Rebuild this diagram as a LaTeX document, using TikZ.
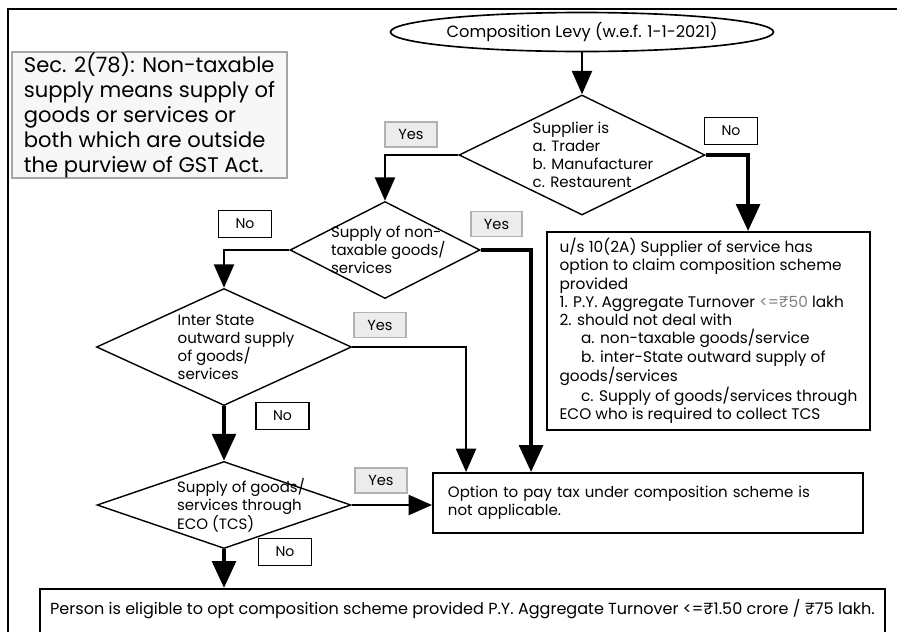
\documentclass[tikz,border=0pt]{standalone}
\usepackage{fontspec}
\setmainfont{Poppins}
\usetikzlibrary{shapes.geometric,arrows.meta}

\begin{document}
\begin{tikzpicture}[x=0.03cm,y=-0.03cm]
\tikzstyle{txt} = [font=\fontsize{12.8}{15.4}\selectfont, align=left]
\tikzstyle{decision} = [draw, line width=1.2pt, diamond, inner sep=0]
\tikzstyle{infobox} = [draw, line width=1.6pt, rectangle, inner ysep=0, txt]
\tikzstyle{yesbox} = [draw=gray!60, fill=gray!15, line width=1.5pt, minimum width=1.55cm, minimum height=0.75cm, inner sep=0, font=\fontsize{12.5}{13}\selectfont]
\tikzstyle{nobox} = [draw, line width=1.3pt, fill=white, minimum width=1.6cm, minimum height=0.8cm, inner sep=0, font=\fontsize{12}{13}\selectfont]
\tikzstyle{flow} = [line width=2.2pt, -{Triangle[width=17pt,length=20pt]}]
\tikzstyle{bigflow} = [line width=3.8pt, -{Triangle[width=20pt,length=23pt]}]

\useasboundingbox (0,0) rectangle (897,631);

% Cornice
\draw[line width=1.6pt] (8,640) -- (8,9) -- (900,9);

% Definizione
\node[infobox, draw=gray!70, fill=gray!6, line width=1pt, font=\fontsize{18}{21.3}\selectfont,
  minimum width=8.25cm, minimum height=3.78cm] (sec) at (149.5,115)
  {Sec. 2(78): Non-taxable\\supply means supply of\\goods or services or\\both which are outside\\the purview of GST Act.};

% Inizio
\node[draw, ellipse, line width=1.4pt, minimum width=10.17cm, minimum height=1.17cm, inner sep=0,
  font=\fontsize{13.9}{15}\selectfont] (levy) at (582,32) {Composition Levy (w.e.f. 1-1-2021)};

% Domande
\node[decision, minimum width=7.38cm, minimum height=3.6cm,
  label={[txt, xshift=0.33cm]center:{Supplier is\\a. Trader\\b. Manufacturer\\c. Restaurent}}] (q1) at (582,155) {};
\node[decision, minimum width=5.7cm, minimum height=2.91cm,
  label={[txt, xshift=0.1cm]center:{Supply of non-\\taxable goods/\\services}}] (q2) at (385,250) {};
\node[decision, minimum width=7.65cm, minimum height=3.51cm,
  label={[txt, xshift=0.36cm]center:{Inter State\\outward supply\\of goods/\\services}}] (q3) at (224,347) {};
\node[decision, minimum width=7.62cm, minimum height=2.61cm,
  label={[txt, xshift=0.51cm]center:{Supply of goods/\\services through\\ECO (TCS)}}] (q4) at (224,505) {};

% Esiti
\node[infobox, minimum width=9.69cm, minimum height=5.94cm, font=\fontsize{13.1}{15.6}\selectfont] (us) at (708.5,331)
  {u/s 10(2A) Supplier of service has\\
   option to claim composition scheme\\
   provided\\
   1. P.Y. Aggregate Turnover {\color{gray}<=₹50} lakh\\
   2. should not deal with\\
   \hspace*{1.4em}a. non-taxable goods/service\\
   \hspace*{1.4em}b. inter-State outward supply of\\
   goods/services\\
   \hspace*{1.4em}c. Supply of goods/services through\\
   ECO who is required to collect TCS};
\node[infobox, minimum width=12.9cm, minimum height=1.8cm, text width=12cm, inner xsep=0.45cm] (opt) at (648,503)
  {Option to pay tax under composition scheme is\\not applicable.};
\node[infobox, anchor=north, minimum width=25.35cm, text height=0.78cm, text depth=1.5cm,
  font=\fontsize{13.7}{15.4}\selectfont] (final) at (462.5,588)
  {Person is eligible to opt composition scheme provided P.Y. Aggregate Turnover <=₹1.50 crore / ₹75 lakh.};

% Frecce
\draw[flow] (levy.south) -- (q1.north);
\draw[flow] (q1.west) -| (q2.north);
\draw[bigflow] (q1.east) -| ([xshift=6.06cm]us.north west);
\draw[flow] (q2.west) -| (q3.north);
\draw[bigflow] (q2.east) -| ([xshift=2.97cm]opt.north west);
\draw[flow] (q3.east) -| ([xshift=1.02cm]opt.north west);
\draw[bigflow] (q3.south) -- (q4.north);
\draw[flow] (q4.east) -- (q4.east -| opt.west);
\draw[bigflow] (q4.south) -- (q4.south |- final.north);

% Etichette
\foreach \nm/\x/\y in {y1/411/134.5, y2/496.5/224, y3/380/325, y4/381/480.5} {
  \node[yesbox] (\nm) at (\x,\y) {Yes};
}
\foreach \nm/\x/\y in {n1/731/131, n2/245/224, n3/282.5/416, n4/285/552} {
  \node[nobox] (\nm) at (\x,\y) {No};
}

\end{tikzpicture}
\end{document}
